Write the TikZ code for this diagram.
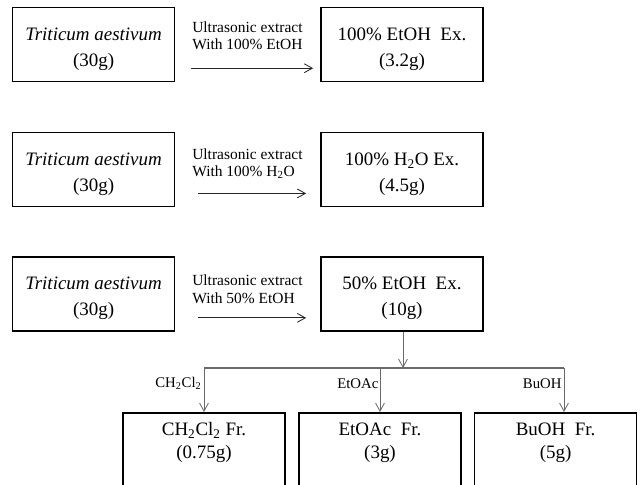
\documentclass[tikz,border=0pt]{standalone}
\usepackage{fontspec}
\setmainfont{Liberation Serif}
\usetikzlibrary{arrows.meta, positioning}
\definecolor{lineGrey}{HTML}{6A6A6A}

\begin{document}
\begin{tikzpicture}[
    box/.style={rectangle, draw=black, line width=1.2pt, minimum width=4.05cm,
                minimum height=1.85cm, align=center, text height=34pt, text depth=3pt,
                font=\fontsize{13.5}{18.5}\selectfont},
    fracbox/.style={box, anchor=north, text height=29.2pt, text depth=1cm,
                    font=\fontsize{13.5}{16.5}\selectfont},
    steptxt/.style={anchor=west, align=left, inner sep=0pt,
                    font=\fontsize{11}{12.3}\selectfont},
    solvtxt/.style={anchor=east, inner sep=1pt, font=\fontsize{10.5}{12}\selectfont},
    arr/.style={-{Straight Barb[length=2mm, width=2.2mm]}, line width=0.6pt, black!85},
    treeline/.style={line width=0.8pt, lineGrey},
  ]
    \clip (0,0) rectangle (16,12.1);

    % ─── Row 1: 100% EtOH ───
    \node[box] (src1) at (2.34, 10.99) {\textit{Triticum aestivum}\\(30g)};
    \node[box] (ex1) at (10.05, 10.99) {100\% EtOH\ \ Ex.\\(3.2g)};
    \node[steptxt] (st1) at (4.8, 11.21) {Ultrasonic extract\\With 100\% EtOH};
    % Arrow
    \draw[arr] ([shift={(0.4,0.35)}]src1.south east) -- ([shift={(-0.175,0.35)}]ex1.south west);

    % ─── Row 2: 100% H2O ───
    \node[box] (src2) at (2.34, 7.86) {\textit{Triticum aestivum}\\(30g)};
    \node[box] (ex2) at (10.05, 7.86) {100\% H\textsubscript{2}O Ex.\\(4.5g)};
    \node[steptxt] (st2) at (4.8, 8.01) {Ultrasonic extract\\With 100\% H\textsubscript{2}O};
    % Arrow
    \draw[arr] ([shift={(0.575,0.35)}]src2.south east) -- ([shift={(-0.35,0.35)}]ex2.south west);

    % ─── Row 3: 50% EtOH ───
    \node[box] (src3) at (2.34, 4.75) {\textit{Triticum aestivum}\\(30g)};
    \node[box] (ex3) at (10.05, 4.75) {50\% EtOH\ \ Ex.\\(10g)};
    \node[steptxt] (st3) at (4.8, 4.87) {Ultrasonic extract\\With 50\% EtOH};
    % Arrow
    \draw[arr] ([shift={(0.575,0.35)}]src3.south east) -- ([shift={(-0.35,0.35)}]ex3.south west);

    % ─── Fractions ───
    \node[fracbox] (fr1) at (5.1, 1.8) {CH\textsubscript{2}Cl\textsubscript{2} Fr.\\(0.75g)};
    \node[fracbox] (fr2) at (9.5, 1.8) {EtOAc\ \ Fr.\\(3g)};
    \node[fracbox] (fr3) at (13.89, 1.8) {BuOH\ \ Fr.\\(5g)};
    % Split
    \coordinate (jn) at (10.075, 2.9);
    \coordinate (jr) at (14.1, 2.9);
    \draw[arr, lineGrey] (ex3.south -| jn) -- (jn);
    \draw[treeline] (fr1.north |- jn) -- (jr);
    \draw[arr, lineGrey] (fr1.north |- jn) -- (fr1.north);
    \draw[arr, lineGrey] (fr2.north |- jn) -- (fr2.north);
    \draw[arr, lineGrey] (jr) -- (jr |- fr3.north);
    \node[solvtxt] (sv1) at (5.08, 2.52) {CH\textsubscript{2}Cl\textsubscript{2}};
    \node[solvtxt] (sv2) at (9.5, 2.52) {EtOAc};
    \node[solvtxt] (sv3) at (14.08, 2.52) {BuOH};
  \end{tikzpicture}
\end{document}
